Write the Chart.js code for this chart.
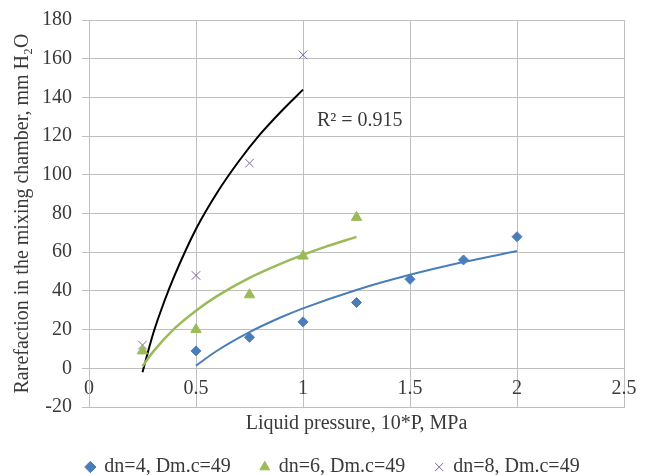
<!DOCTYPE html>
<html>
<head>
<meta charset="utf-8">
<script src="https://cdn.jsdelivr.net/npm/chart.js@4.4.1/dist/chart.umd.min.js"></script>
<style>
  html, body { margin: 0; padding: 0; background: #fff; }
  #wrap { width: 651px; height: 475px; }
</style>
</head>
<body>
<div id="wrap"><canvas id="chart" width="651" height="475"></canvas></div>
<script>
// series names
const seriesNames = ['dn=4, Dm.c=49', 'dn=6, Dm.c=49', 'dn=8, Dm.c=49'];

// measured points
const xDn4 = [0.5, 0.75, 1, 1.25, 1.5, 1.75, 2];
const yDn4 = [9, 16, 24, 34, 46, 56, 68];
const xDn6 = [0.25, 0.5, 0.75, 1, 1.25];
const yDn6 = [9, 20, 38, 58, 78];
const xDn8 = [0.25, 0.5, 0.75, 1];
const yDn8 = [12, 48, 106, 162];

// trend curves
const xTrend4 = [0.5, 0.6, 0.75, 0.9, 1, 1.25, 1.5, 1.75, 2];
const yTrend4 = [1.4, 9.2, 18.7, 26.5, 31, 40.5, 48.3, 54.9, 60.6];
const xTrend6 = [0.25, 0.3, 0.4, 0.5, 0.6, 0.75, 0.9, 1, 1.1, 1.25];
const yTrend6 = [1.1, 8.6, 20.6, 29.8, 37.4, 46.7, 54.2, 58.6, 62.6, 67.9];
const xTrend8 = [0.25, 0.3, 0.35, 0.4, 0.5, 0.6, 0.7, 0.8, 0.9, 1];
const yTrend8 = [-2, 18, 34, 48, 72, 91, 107, 121, 133, 144];

const r2Label = 'R² = 0.915';
const xTicks = [0, 0.5, 1, 1.5, 2, 2.5];
const yTicks = [-20, 0, 20, 40, 60, 80, 100, 120, 140, 160, 180];

function pts(xs, ys) {
    return xs.map((x, i) => ({ x: x, y: ys[i] }));
}

const fontFamily = "'Liberation Serif', 'Times New Roman', serif";
Chart.defaults.font.family = fontFamily;
Chart.defaults.font.size = 20;
Chart.defaults.color = '#3a3a3a';

const textColor = '#3a3a3a';
const gridColor = '#bfbfbf';

// R² label inside the plot
const r2Plugin = {
    id: 'r2Plugin',
    afterDatasetsDraw(chart) {
        const ctx = chart.ctx;
        const xs = chart.scales.x;
        const ys = chart.scales.y;
        ctx.save();
        ctx.font = '20px ' + fontFamily;
        ctx.fillStyle = textColor;
        ctx.textAlign = 'left';
        ctx.textBaseline = 'middle';
        ctx.fillText(r2Label, xs.getPixelForValue(1.065), ys.getPixelForValue(128));
        ctx.restore();
    }
};

// legend sits a bit right of the layout centre in the original
const legendShift = {
    id: 'legendShift',
    afterLayout(chart) {
        if (chart.legend) {
            chart.legend.left += 20;
            chart.legend.right += 20;
        }
    }
};

const ctx = document.getElementById('chart').getContext('2d');
new Chart(ctx, {
    type: 'scatter',
    data: {
        datasets: [
            {
                label: seriesNames[0],
                data: pts(xDn4, yDn4),
                pointStyle: 'rectRot',
                pointRadius: 5,
                backgroundColor: '#4a7ebb',
                borderColor: '#4a7ebb',
                borderWidth: 1
            },
            {
                label: seriesNames[1],
                data: pts(xDn6, yDn6),
                pointStyle: 'triangle',
                pointRadius: 6,
                backgroundColor: '#9bbb59',
                borderColor: '#9bbb59',
                borderWidth: 1
            },
            {
                label: seriesNames[2],
                data: pts(xDn8, yDn8),
                pointStyle: 'crossRot',
                pointRadius: 6,
                backgroundColor: '#8064a2',
                borderColor: '#8064a2',
                borderWidth: 1
            },
            {
                label: 'trend dn=4',
                data: pts(xTrend4, yTrend4),
                showLine: true,
                pointRadius: 0,
                borderColor: '#4a7ebb',
                borderWidth: 2,
                cubicInterpolationMode: 'monotone'
            },
            {
                label: 'trend dn=6',
                data: pts(xTrend6, yTrend6),
                showLine: true,
                pointRadius: 0,
                borderColor: '#9bbb59',
                borderWidth: 2.5,
                cubicInterpolationMode: 'monotone'
            },
            {
                label: 'trend dn=8',
                data: pts(xTrend8, yTrend8),
                showLine: true,
                pointRadius: 0,
                borderColor: '#000000',
                borderWidth: 2,
                cubicInterpolationMode: 'monotone'
            }
        ]
    },
    options: {
        responsive: false,
        animation: false,
        layout: { padding: { top: 0, right: 27, left: 2, bottom: 0 } },
        plugins: {
            tooltip: { enabled: false },
            legend: {
                position: 'bottom',
                maxHeight: 48,
                labels: {
                    usePointStyle: true,
                    boxHeight: 8,
                    boxWidth: 8,
                    padding: 30,
                    color: textColor,
                    filter: item => item.datasetIndex < 3
                }
            }
        },
        scales: {
            x: {
                type: 'linear',
                min: 0,
                max: 2.5,
                afterBuildTicks: axis => { axis.ticks = xTicks.map(v => ({ value: v })); },
                ticks: { display: false },
                grid: { color: gridColor, drawTicks: false },
                border: { color: gridColor },
                title: {
                    display: true,
                    text: 'Liquid pressure, 10*P, MPa',
                    color: textColor,
                    font: { size: 20, lineHeight: 1 },
                    padding: { top: 7, bottom: -7 }
                }
            },
            x2: {
                type: 'linear',
                position: { y: 0 },
                min: 0,
                max: 2.5,
                afterBuildTicks: axis => { axis.ticks = xTicks.map(v => ({ value: v })); },
                ticks: {
                    color: textColor,
                    padding: 8,
                    maxRotation: 0,
                    callback: v => String(v)
                },
                grid: { display: false, drawTicks: false },
                border: { display: false }
            },
            y: {
                type: 'linear',
                min: -20,
                max: 180,
                afterBuildTicks: axis => { axis.ticks = yTicks.map(v => ({ value: v })); },
                ticks: { color: textColor, padding: 10, font: { size: 20, lineHeight: 1 } },
                grid: { color: gridColor, tickLength: 7 },
                border: { color: gridColor },
                title: {
                    display: true,
                    text: 'Rarefaction in the mixing chamber, mm H₂O',
                    color: textColor,
                    padding: { top: 9, bottom: -3 }
                }
            }
        }
    },
    plugins: [r2Plugin, legendShift]
});
</script>
</body>
</html>
